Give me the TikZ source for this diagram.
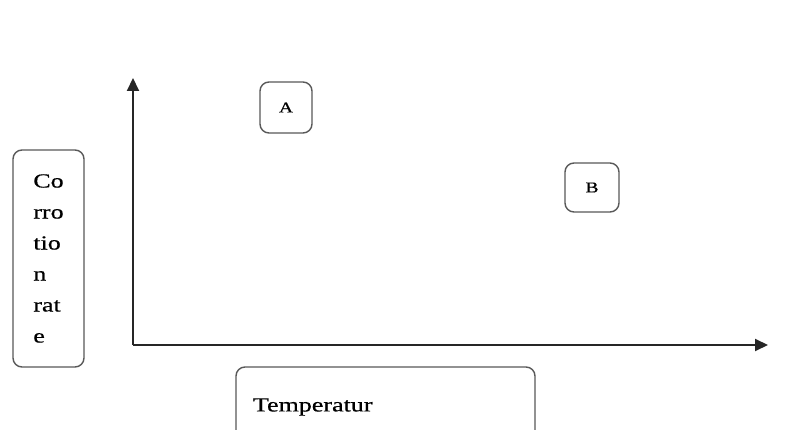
\documentclass[tikz,border=0pt]{standalone}
\usepackage{fontspec}
\setmainfont{Liberation Serif}[FakeStretch=1.3,FakeBold=0.6]
\usetikzlibrary{arrows.meta,positioning}
\tikzset{
    box/.style={draw=black!65, line width=1.4pt, rounded corners=9pt, fill=white},
    bigtext/.style={font=\fontsize{20}{31}\selectfont},
    smalltext/.style={font=\fontsize{15}{17}\selectfont},
    axisline/.style={black!85, line width=2pt, -{Triangle[length=13pt,width=12pt]}}
}

\begin{document}
\begin{tikzpicture}[x=1pt,y=-1pt]
            \useasboundingbox[fill=white] (0,0) rectangle (787,430);

            % axes
            \coordinate (origin) at (133,345);
            \coordinate (ytip) at (133,78);
            \coordinate (xtip) at (768,345);
            \draw[axisline] (origin)--(ytip);
            \draw[axisline] (origin)--(xtip);

            % labels in boxes
            \node[box,bigtext,align=left,minimum width=71pt,minimum height=217pt] (rate) at (48.5,258.5) {Co\\rro\\tio\\n\\rat\\e};
            \node[box,bigtext,align=left,text width=265pt,inner xsep=17pt,minimum height=80pt] (temp) at (385.5,407) {Temperatur};
            \node[box,smalltext,minimum width=52pt,minimum height=51pt] (A) at (286,107.5) {A};
            \node[box,smalltext,minimum width=54pt,minimum height=49pt] (B) at (592,187.5) {B};

        \end{tikzpicture}
\end{document}
